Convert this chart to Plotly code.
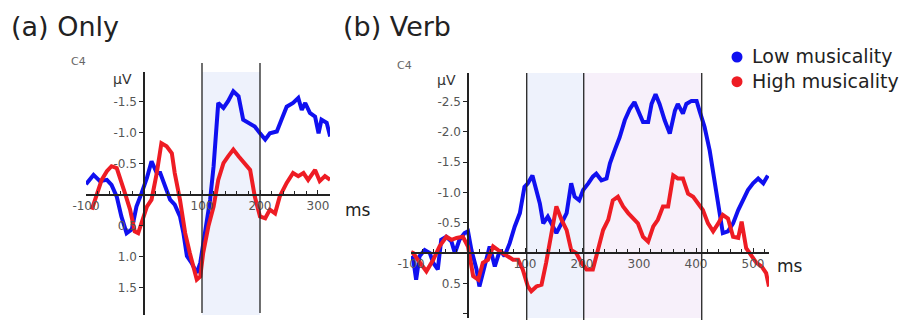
import plotly.graph_objects as go

# ---------------- data ----------------
only_ms_low = [-100, -87, -76, -64, -56, -47, -39, -30, -21, -13, -4, 5, 13, 22, 28, 36, 45, 53, 62, 68, 74, 82, 91, 97,
               105, 114, 120, 128, 137, 145, 154, 163, 171, 180, 191, 200, 209, 217, 229, 237, 246, 257, 266, 272,
               278, 286, 295, 301, 306, 315, 321]
only_uv_low = [-0.17, -0.32, -0.22, -0.24, -0.16, 0.03, 0.35, 0.62, 0.56, 0.19, -0.03, -0.27, -0.54, -0.35, -0.35,
               -0.13, 0.08, 0.16, 0.35, 0.62, 0.99, 1.10, 1.26, 1.10, 0.62, 0.08, -0.46, -1.48, -1.40, -1.51, -1.67,
               -1.59, -1.21, -1.16, -1.10, -0.99, -0.89, -0.99, -1.02, -1.21, -1.42, -1.48, -1.56, -1.37, -1.48,
               -1.32, -1.26, -0.99, -1.21, -1.16, -0.94]
only_ms_high = [-90, -82, -73, -64, -56, -47, -41, -33, -24, -16, -10, -4, 5, 13, 22, 30, 39, 48, 53, 62, 71, 79, 85,
                91, 97, 102, 111, 120, 128, 137, 145, 154, 163, 174, 183, 191, 200, 209, 217, 226, 234, 246, 257,
                266, 275, 283, 295, 303, 312, 321]
only_uv_high = [0.24, 0.03, -0.24, -0.38, -0.46, -0.43, -0.24, -0.03, 0.24, 0.59, 0.62, 0.46, 0.19, 0.08, -0.35,
                -0.83, -0.78, -0.67, -0.35, 0.08, 0.62, 0.94, 1.16, 1.37, 1.32, 0.94, 0.51, 0.19, -0.24, -0.51,
                -0.62, -0.73, -0.62, -0.51, -0.40, 0.03, 0.35, 0.38, 0.24, 0.30, 0.03, -0.19, -0.35, -0.30, -0.35,
                -0.24, -0.40, -0.22, -0.30, -0.24]

verb_ms_low = [-100, -96, -91, -85, -76, -67, -61, -53, -47, -38, -29, -23, -15, -6, 0, 6, 15, 20, 29, 38, 47, 56,
               64, 73, 82, 91, 99, 105, 113, 120, 126, 132, 140, 149, 155, 164, 173, 181, 187, 195, 202, 211, 219,
               225, 234, 243, 249, 257, 266, 275, 284, 292, 298, 307, 316, 322, 329, 336, 345, 354, 363, 368, 377,
               383, 392, 401, 406, 415, 424, 433, 442, 447, 456, 465, 474, 482, 491, 500, 509, 518, 526]
verb_uv_low = [0.05, 0.11, 0.44, 0.05, -0.05, 0.0, 0.16, 0.27, -0.22, -0.27, -0.19, 0.0, -0.22, -0.33, -0.36,
               -0.05, 0.27, 0.55, 0.22, -0.11, 0.22, -0.05, 0.05, -0.16, -0.44, -0.66, -1.09, -1.15, -1.28, -1.04,
               -0.82, -0.49, -0.60, -0.44, -0.33, -0.49, -0.66, -1.15, -0.93, -0.87, -1.04, -1.15, -1.26, -1.31,
               -1.20, -1.23, -1.48, -1.69, -1.91, -2.19, -2.38, -2.49, -2.35, -2.16, -2.16, -2.46, -2.62, -2.46,
               -2.19, -1.97, -2.35, -2.46, -2.30, -2.46, -2.51, -2.51, -2.35, -2.08, -1.69, -1.15, -0.60, -0.33,
               -0.36, -0.49, -0.71, -0.87, -1.04, -1.15, -1.23, -1.15, -1.28]
verb_ms_high = [-100, -96, -88, -73, -61, -50, -38, -29, -20, -9, 0, 9, 18, 26, 35, 44, 53, 61, 70, 79, 88, 96,
                105, 111, 120, 129, 137, 146, 155, 164, 173, 181, 190, 199, 208, 219, 228, 237, 246, 254, 263, 272,
                281, 289, 298, 307, 316, 325, 333, 342, 351, 360, 368, 377, 386, 395, 404, 412, 421, 430, 439, 447,
                456, 465, 474, 480, 488, 497, 506, 515, 523, 528]
verb_uv_high = [-0.02, 0.0, 0.11, 0.30, 0.11, -0.11, -0.27, -0.22, -0.25, -0.27, -0.11, 0.38, 0.44, 0.16, 0.11,
                -0.11, -0.05, 0.0, 0.05, 0.11, 0.11, 0.27, 0.55, 0.63, 0.55, 0.52, 0.16, -0.27, -0.77, -0.55, -0.38,
                -0.05, 0.0, 0.16, 0.27, 0.27, -0.05, -0.38, -0.55, -0.87, -0.93, -0.77, -0.66, -0.57, -0.49, -0.27,
                -0.19, -0.44, -0.55, -0.77, -0.77, -1.28, -1.23, -1.23, -0.98, -0.93, -0.82, -0.71, -0.49, -0.36,
                -0.49, -0.63, -0.57, -0.27, -0.25, -0.52, -0.08, 0.05, 0.16, 0.22, 0.33, 0.55]

only_ticks_x = [-100, 100, 200, 300]
only_ticks_y = [-1.5, -1.0, -0.5, 0.5, 1.0, 1.5]
verb_ticks_x = [-100, 100, 200, 300, 400, 500]
verb_ticks_y = [-2.5, -2.0, -1.5, -1.0, -0.5, 0.5, 1.0]
only_markers = [100, 200]
verb_markers = [103, 203, 410]
series_names = ["Low musicality", "High musicality"]
series_colors = ["#1010f0", "#ee1c24"]

# ---------------- figure ----------------
W, H = 906, 320
BLUE, RED = series_colors

fig = go.Figure()
lw = 4
fig.add_trace(go.Scatter(x=only_ms_low, y=only_uv_low, mode="lines", line=dict(color=BLUE, width=lw),
                         xaxis="x", yaxis="y", name=series_names[0], showlegend=False))
fig.add_trace(go.Scatter(x=only_ms_high, y=only_uv_high, mode="lines", line=dict(color=RED, width=lw),
                         xaxis="x", yaxis="y", name=series_names[1], showlegend=False))
fig.add_trace(go.Scatter(x=verb_ms_low, y=verb_uv_low, mode="lines", line=dict(color=BLUE, width=lw),
                         xaxis="x2", yaxis="y2", name=series_names[0], showlegend=False))
fig.add_trace(go.Scatter(x=verb_ms_high, y=verb_uv_high, mode="lines", line=dict(color=RED, width=lw),
                         xaxis="x2", yaxis="y2", name=series_names[1], showlegend=False))


def px_x(p):
    return p / W


def px_y(p):
    return 1 - p / H


tickfont = dict(family="DejaVu Sans", size=12, color="#555555")


def fmt(v):
    return f"{v:.1f}"


common_x = dict(showgrid=False, zeroline=False, showline=True, linecolor="#222222", linewidth=1.5,
                ticks="inside", ticklen=4, tickcolor="#222222", tickfont=tickfont, anchor="free",
                automargin=False,
                minor=dict(dtick=20, ticks="inside", ticklen=3, tickcolor="#222222"))
common_y = dict(showgrid=False, zeroline=False, showline=True, linecolor="#222222", linewidth=1.5,
                ticks="outside", ticklen=4, tickcolor="#222222", tickfont=tickfont, anchor="free",
                automargin=False)

fig.update_layout(
    width=W, height=H, margin=dict(l=0, r=0, t=0, b=0, autoexpand=False),
    paper_bgcolor="white", plot_bgcolor="rgba(0,0,0,0)", showlegend=False,
    xaxis=dict(domain=[px_x(86), px_x(330)], range=[-100, 320.7], tickvals=only_ticks_x,
               ticktext=[str(v) for v in only_ticks_x], position=px_y(195), **common_x),
    yaxis=dict(domain=[px_y(315), px_y(72)], range=[1.94, -1.98], tickvals=only_ticks_y,
               ticktext=[fmt(v) for v in only_ticks_y], position=px_x(144), **common_y),
    xaxis2=dict(domain=[px_x(411), px_x(769)], range=[-100, 528], tickvals=verb_ticks_x,
                ticktext=[str(v) for v in verb_ticks_x], position=px_y(253), **common_x),
    yaxis2=dict(domain=[px_y(318), px_y(73)], range=[1.07, -2.97], tickvals=verb_ticks_y,
                ticktext=[fmt(v) for v in verb_ticks_y], position=px_x(468), **common_y),
)

# shaded windows + marker lines
shapes = []
shapes.append(dict(type="rect", xref="x", yref="paper", x0=only_markers[0], x1=only_markers[1],
                   y0=px_y(315), y1=px_y(72), fillcolor="rgba(205,218,245,0.35)", line=dict(width=0), layer="below"))
shapes.append(dict(type="rect", xref="x2", yref="paper", x0=verb_markers[0], x1=verb_markers[1],
                   y0=px_y(318), y1=px_y(73), fillcolor="rgba(205,218,245,0.35)", line=dict(width=0), layer="below"))
shapes.append(dict(type="rect", xref="x2", yref="paper", x0=verb_markers[1], x1=verb_markers[2],
                   y0=px_y(318), y1=px_y(73), fillcolor="rgba(238,222,245,0.45)", line=dict(width=0), layer="below"))
for m in only_markers:
    shapes.append(dict(type="line", xref="x", yref="paper", x0=m, x1=m, y0=px_y(313), y1=px_y(63),
                       line=dict(color="#222222", width=1.3)))
for m in verb_markers:
    shapes.append(dict(type="line", xref="x2", yref="paper", x0=m, x1=m, y0=px_y(320), y1=px_y(73),
                       line=dict(color="#222222", width=1.3)))

ann = []


def text(x, y, s, size, color="#222222", anchor="left", yanchor="middle"):
    ann.append(dict(x=px_x(x), y=px_y(y), xref="paper", yref="paper", text=s, showarrow=False,
                    xanchor=anchor, yanchor=yanchor, borderpad=0, align="left",
                    font=dict(family="DejaVu Sans", size=size, color=color)))


# legend: coloured dots + one two-line label block
LEG_FONT = 19
line_h = LEG_FONT * 1.3
leg_top = 56 - line_h / 2
for i, col in enumerate(series_colors):
    cy = 57 + i * line_h
    r = 5.5
    shapes.append(dict(type="circle", xref="paper", yref="paper", x0=px_x(737 - r), x1=px_x(737 + r),
                       y0=px_y(cy + r), y1=px_y(cy - r), fillcolor=col, line=dict(width=0)))
text(751, leg_top, "<br>".join(series_names), LEG_FONT, yanchor="top")

fig.update_layout(shapes=shapes)

text(10, 26, "(a) Only", 27)
text(342, 26, "(b) Verb", 27)
text(70, 62, "C4", 11, "#666666")
text(396, 65, "C4", 11, "#666666")
text(112, 79, "µV", 14, "#333333")
text(436, 80, "µV", 14, "#333333")
text(344, 210, "ms", 17)
text(776, 266, "ms", 17)
fig.update_layout(annotations=ann)

fig.write_html("out.html", config={"displayModeBar": False},
               post_script="document.body.style.margin='0px';")
